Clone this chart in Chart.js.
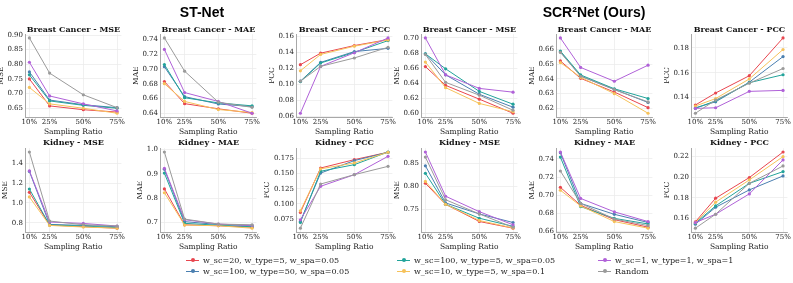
<!DOCTYPE html>
<html><head><meta charset="utf-8">
<script src="https://cdn.jsdelivr.net/npm/chart.js@4.4.1/dist/chart.umd.min.js"></script>
<style>
body{margin:0;background:#fff;width:793px;height:283px;overflow:hidden;position:relative;font-family:'DejaVu Serif',serif;}
canvas{position:absolute;}
.gt{position:absolute;font-family:'Liberation Sans',Arial,sans-serif;font-weight:bold;font-size:14px;transform:translate(-50%,-50%);white-space:nowrap;color:#000;}
.st{position:absolute;font-family:'DejaVu Serif',serif;font-weight:bold;font-size:8px;transform:translate(-50%,-50%);white-space:nowrap;color:#111;}
.lg{position:absolute;font-family:'DejaVu Serif',serif;font-size:8px;white-space:nowrap;transform:translateY(-50%);color:#222;}
.ll{position:absolute;height:1px;}
.ld{position:absolute;width:4px;height:4px;border-radius:50%;}
</style></head><body>
<script>
// ---- data ----
const categories = [10, 25, 50, 75];
const seriesLabels = [
  'w_sc=20, w_type=5, w_spa=0.05',
  'w_sc=100, w_type=50, w_spa=0.05',
  'w_sc=100, w_type=5, w_spa=0.05',
  'w_sc=10, w_type=5, w_spa=0.1',
  'w_sc=1, w_type=1, w_spa=1',
  'Random'
];
// each: [red, blue, teal, yellow, purple, gray]
const stBcMse = [
  [0.750,0.658,0.645,0.637],
  [0.774,0.678,0.662,0.652],
  [0.764,0.675,0.660,0.650],
  [0.721,0.665,0.650,0.633],
  [0.807,0.692,0.665,0.641],
  [0.890,0.770,0.696,0.652]
];
const stBcMae = [
  [0.683,0.653,0.646,0.640],
  [0.703,0.6625,0.6525,0.649],
  [0.706,0.661,0.654,0.650],
  [0.680,0.656,0.645,0.641],
  [0.7265,0.668,0.656,0.640],
  [0.742,0.697,0.655,0.648]
];
const stBcPcc = [
  [0.1246,0.139,0.1485,0.156],
  [0.104,0.1275,0.141,0.145],
  [0.1036,0.1267,0.140,0.1547],
  [0.117,0.1374,0.1477,0.1555],
  [0.064,0.1225,0.1395,0.158],
  [0.104,0.1225,0.133,0.1464]
];
const scBcMse = [
  [0.662,0.637,0.6187,0.600],
  [0.679,0.651,0.6252,0.608],
  [0.679,0.659,0.629,0.612],
  [0.668,0.634,0.613,0.602],
  [0.700,0.651,0.633,0.628],
  [0.678,0.641,0.624,0.604]
];
const scBcMae = [
  [0.6522,0.6404,0.6311,0.6205],
  [0.6584,0.6420,0.6329,0.6240],
  [0.6589,0.6427,0.6333,0.6267],
  [0.6511,0.6411,0.6300,0.6167],
  [0.6678,0.6478,0.6384,0.6493],
  [0.6580,0.6418,0.6327,0.6244]
];
const scBcPcc = [
  [0.134,0.1437,0.1576,0.188],
  [0.1318,0.1366,0.1524,0.173],
  [0.1313,0.1374,0.152,0.1584],
  [0.1332,0.1392,0.155,0.1787],
  [0.1313,0.1318,0.145,0.1458],
  [0.1274,0.138,0.1516,0.1634]
];
const stKdMse = [
  [1.107,0.777,0.760,0.745],
  [1.317,0.783,0.773,0.760],
  [1.140,0.777,0.767,0.750],
  [1.060,0.773,0.757,0.745],
  [1.323,0.807,0.793,0.767],
  [1.513,0.817,0.780,0.767]
];
const stKdMae = [
  [0.838,0.690,0.686,0.680],
  [0.919,0.703,0.691,0.687],
  [0.903,0.696,0.688,0.682],
  [0.822,0.689,0.686,0.676],
  [0.923,0.711,0.693,0.687],
  [0.990,0.7135,0.693,0.690]
];
const stKdPcc = [
  [0.0856,0.1594,0.1733,0.1856],
  [0.0706,0.151,0.1717,0.1856],
  [0.069,0.154,0.165,0.186],
  [0.0883,0.158,0.1678,0.1856],
  [0.0733,0.129,0.1483,0.1789],
  [0.0594,0.1328,0.1483,0.1622]
];
const scKdMse = [
  [0.807,0.761,0.7236,0.709],
  [0.845,0.764,0.740,0.7214],
  [0.8286,0.761,0.7307,0.713],
  [0.811,0.761,0.7257,0.7095],
  [0.875,0.7786,0.745,0.7164],
  [0.864,0.771,0.740,0.711]
];
const scKdMae = [
  [0.7087,0.6889,0.6731,0.6648],
  [0.7468,0.691,0.679,0.670],
  [0.742,0.6875,0.6745,0.6684],
  [0.7055,0.6882,0.671,0.6637],
  [0.7476,0.6965,0.6817,0.671],
  [0.7267,0.691,0.6738,0.6666]
];
const scKdPcc = [
  [0.1565,0.1795,0.1996,0.2245],
  [0.1542,0.1707,0.1876,0.2012],
  [0.1552,0.172,0.194,0.2054],
  [0.1558,0.1756,0.1973,0.22],
  [0.1558,0.1639,0.1837,0.2168],
  [0.1503,0.1639,0.194,0.2109]
];
const xTickLabels = ['10%','25%','50%','75%'];
const ticksStBcMse = [0.65,0.70,0.75,0.80,0.85,0.90];
const ticksStBcMae = [0.64,0.66,0.68,0.70,0.72,0.74];
const ticksStBcPcc = [0.06,0.08,0.10,0.12,0.14,0.16];
const ticksScBcMse = [0.60,0.62,0.64,0.66,0.68,0.70];
const ticksScBcMae = [0.62,0.63,0.64,0.65,0.66];
const ticksScBcPcc = [0.14,0.16,0.18];
const ticksStKdMse = [0.8,1.0,1.2,1.4];
const ticksStKdMae = [0.7,0.8,0.9,1.0];
const ticksStKdPcc = [0.075,0.100,0.125,0.150,0.175];
const ticksScKdMse = [0.75,0.80,0.85];
const ticksScKdMae = [0.66,0.68,0.70,0.72,0.74];
const ticksScKdPcc = [0.16,0.18,0.20,0.22];

// ---- layout / style ----
const COLORS = ['#e8464f','#4a7fb0','#22a39a','#f6c25a','#b061d8','#9a9a9a'];
const GRID = '#ececec', AXIS = '#a8a8a8', TXT = '#222';
const PW = 97, PT = 5, RP = 4;
const colLeft = [25,160,296,421,556,691];
const rowTop = [33,147];
const rowH = [84,85];
const rowTitleY = [29,142];

const panels = [
  {d:stBcMse,t:'Breast Cancer - MSE',y:'MSE',tk:ticksStBcMse,dec:2,c:0,r:0},
  {d:stBcMae,t:'Breast Cancer - MAE',y:'MAE',tk:ticksStBcMae,dec:2,c:1,r:0},
  {d:stBcPcc,t:'Breast Cancer - PCC',y:'PCC',tk:ticksStBcPcc,dec:2,c:2,r:0},
  {d:scBcMse,t:'Breast Cancer - MSE',y:'MSE',tk:ticksScBcMse,dec:2,c:3,r:0},
  {d:scBcMae,t:'Breast Cancer - MAE',y:'MAE',tk:ticksScBcMae,dec:2,c:4,r:0},
  {d:scBcPcc,t:'Breast Cancer - PCC',y:'PCC',tk:ticksScBcPcc,dec:2,c:5,r:0},
  {d:stKdMse,t:'Kidney - MSE',y:'MSE',tk:ticksStKdMse,dec:1,c:0,r:1},
  {d:stKdMae,t:'Kidney - MAE',y:'MAE',tk:ticksStKdMae,dec:1,c:1,r:1},
  {d:stKdPcc,t:'Kidney - PCC',y:'PCC',tk:ticksStKdPcc,dec:3,c:2,r:1},
  {d:scKdMse,t:'Kidney - MSE',y:'MSE',tk:ticksScKdMse,dec:2,c:3,r:1},
  {d:scKdMae,t:'Kidney - MAE',y:'MAE',tk:ticksScKdMae,dec:2,c:4,r:1},
  {d:scKdPcc,t:'Kidney - PCC',y:'PCC',tk:ticksScKdPcc,dec:2,c:5,r:1}
];

function yRange(data){
  const all = data.flat();
  const mn = Math.min(...all), mx = Math.max(...all);
  const m = (mx - mn) * 0.05;
  return [mn - m, mx + m];
}
const tickFont = {family:'DejaVu Serif', size:7};
const titleFont = {family:'DejaVu Serif', size:7.5, lineHeight:0.8};
const xTitleFont = {family:'DejaVu Serif', size:7.5, lineHeight:1.2};

function cfg(p){
  const [ymin, ymax] = yRange(p.d);
  const ds = p.d.map((vals,i)=>({
    label: seriesLabels[i],
    data: categories.map((c,j)=>({x:c, y:vals[j]})),
    borderColor: COLORS[i], backgroundColor: COLORS[i],
    borderWidth: 1, pointRadius: 1.6, pointBorderWidth: 0, pointHoverRadius: 0,
    tension: 0
  })).reverse();
  return {
    type:'line',
    data:{datasets: ds},
    options:{
      responsive:false, animation:false, events:[],
      layout:{autoPadding:false, padding:{top:PT, right:RP, left:0, bottom:0}},
      plugins:{legend:{display:false}, title:{display:false}, tooltip:{enabled:false}},
      scales:{
        x:{
          type:'linear', min:6.75, max:78.25,
          afterBuildTicks: s => { s.ticks = categories.map(v=>({value:v})); },
          afterFit: s => { s.height = Math.ceil(s.height); },
          ticks:{callback:(v)=>{const k=categories.indexOf(v); return k>=0?xTickLabels[k]:'';}, font:tickFont, color:TXT, padding:1, maxRotation:0, autoSkip:false},
          grid:{color:GRID, drawTicks:false, lineWidth:0.8},
          border:{color:AXIS, width:1},
          title:{display:true, text:'Sampling Ratio', font:xTitleFont, color:TXT, padding:{top:0,bottom:0}}
        },
        y:{
          min:ymin, max:ymax,
          afterBuildTicks: s => { s.ticks = p.tk.map(v=>({value:v})); },
          afterFit: s => { s.width = Math.ceil(s.width); },
          ticks:{callback:(v)=>Number(v).toFixed(p.dec), font:tickFont, color:TXT, padding:2, autoSkip:false},
          grid:{color:GRID, drawTicks:false, lineWidth:0.8},
          border:{color:AXIS, width:1},
          title:{display:true, text:p.y, font:titleFont, color:TXT, padding:{top:0,bottom:1}}
        }
      }
    }
  };
}

panels.forEach(p=>{
  // measuring pass
  const m = document.createElement('canvas');
  m.width = 300; m.height = 200;
  m.style.left = '-1000px'; m.style.top = '0px';
  document.body.appendChild(m);
  const mc = new Chart(m, cfg(p));
  const yw = mc.scales.y.width, xh = mc.scales.x.height;
  mc.destroy(); m.remove();

  const W = yw + PW + RP, H = PT + rowH[p.r] + xh;
  const cv = document.createElement('canvas');
  cv.width = W; cv.height = H;
  cv.style.width = W+'px'; cv.style.height = H+'px';
  cv.style.left = (colLeft[p.c] - yw) + 'px';
  cv.style.top = (rowTop[p.r] - PT) + 'px';
  document.body.appendChild(cv);
  new Chart(cv, cfg(p));

  const t = document.createElement('div');
  t.className = 'st'; t.textContent = p.t;
  t.style.left = (colLeft[p.c] + PW/2) + 'px';
  t.style.top = rowTitleY[p.r] + 'px';
  document.body.appendChild(t);
});

// group titles
[['ST-Net',202,12],['SCR\u00B2Net (Ours)',594,12]].forEach(([s,x,y])=>{
  const d = document.createElement('div');
  d.className='gt'; d.textContent=s; d.style.left=x+'px'; d.style.top=y+'px';
  document.body.appendChild(d);
});

// legend (matplotlib column-major, 3 columns x 2 rows)
const legX = [186,397,598], legY = [260,271];
seriesLabels.forEach((s,i)=>{
  const col = Math.floor(i/2), row = i%2;
  const x = legX[col], y = legY[row];
  const l = document.createElement('div');
  l.className='ll'; l.style.background=COLORS[i];
  l.style.left=x+'px'; l.style.top=(y-0.5)+'px'; l.style.width='13px';
  document.body.appendChild(l);
  const dt = document.createElement('div');
  dt.className='ld'; dt.style.background=COLORS[i];
  dt.style.left=(x+4.5)+'px'; dt.style.top=(y-2)+'px';
  document.body.appendChild(dt);
  const tx = document.createElement('div');
  tx.className='lg'; tx.textContent=s;
  tx.style.left=(x+17)+'px'; tx.style.top=y+'px';
  document.body.appendChild(tx);
});
</script>
</body></html>
